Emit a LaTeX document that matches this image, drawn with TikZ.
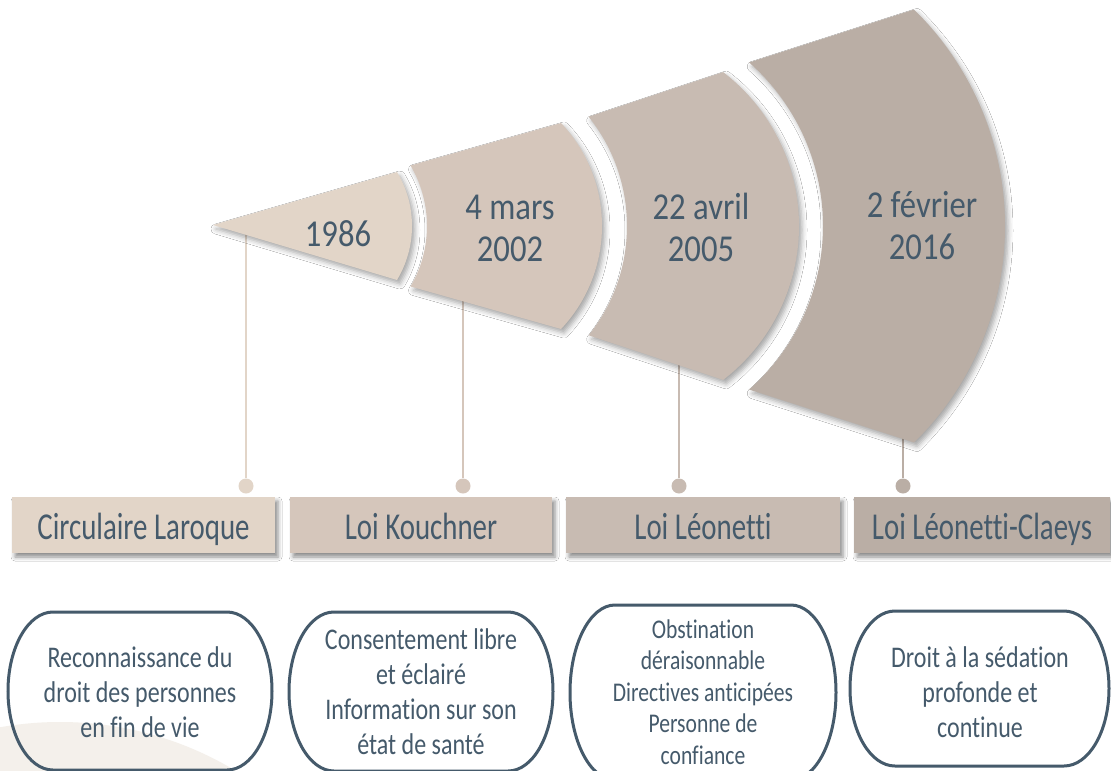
\documentclass[tikz,border=0pt]{standalone}
\usepackage{fontspec}
\setmainfont{Carlito}[Ligatures=NoCommon]
\newfontfamily\datefont[FakeStretch=0.86,Ligatures=NoCommon]{Carlito}
\newfontfamily\labfont[FakeStretch=0.76,Ligatures=NoCommon]{Carlito}
\newfontfamily\descfont[FakeStretch=0.8,Ligatures=NoCommon]{Carlito}
\usetikzlibrary{shadows.blur}
\definecolor{cA}{HTML}{E2D5C8}
\definecolor{cB}{HTML}{D5C6BB}
\definecolor{cC}{HTML}{C8BBB2}
\definecolor{cD}{HTML}{BAAEA5}
\definecolor{txt}{HTML}{455A6B}
\definecolor{bgc}{HTML}{F4F0EB}
\newcommand\mystad[5]{%
  \draw[oval] ({#1+#5},#2) -- ({#3-#5},#2)
    arc[start angle=-90,end angle=90,x radius=#5,y radius={(#4-#2)/2}]
    -- ({#1+#5},#4)
    arc[start angle=90,end angle=270,x radius=#5,y radius={(#4-#2)/2}] -- cycle;}
\begin{document}
\begin{tikzpicture}[x=1pt,y=-1pt,
  piece/.style={blur shadow={shadow xshift=3pt,shadow yshift=-4pt,shadow blur radius=5pt,shadow opacity=35}},
  stem/.style={line width=2.5pt},
  dot/.style={circle,inner sep=0pt,minimum size=15pt},
  datetxt/.style={text=txt,align=center,font=\datefont\fontsize{38}{42}\selectfont},
  labbox/.style={text=txt,font=\labfont\fontsize{38}{42}\selectfont,minimum height=56pt,
     text height=30pt,text depth=2pt,inner sep=0pt,
     blur shadow={shadow xshift=3pt,shadow yshift=-4pt,shadow blur radius=4pt,shadow opacity=45}},
  oval/.style={draw=txt,line width=3pt},
  desc/.style={text=txt,align=center,font=\descfont\fontsize{30}{35}\selectfont},
  descs/.style={text=txt,align=center,font=\descfont\fontsize{27}{31.5}\selectfont}]
\useasboundingbox (0,0) rectangle (1111,771);
\clip (0,0) rectangle (1111,771);
\fill[white] (0,0) rectangle (1111,771);
% background circle
\fill[bgc] (60,1062) circle[radius=340];
% stems and dots
\node[dot,fill=cA] (d1) at (246,486) {};
\node[dot,fill=cB] (d2) at (463,486) {};
\node[dot,fill=cC] (d3) at (679,486) {};
\node[dot,fill=cD] (d4) at (903,486) {};
\coordinate (s1) at (246,226);
\coordinate (s2) at (463,226);
\coordinate (s3) at (679,226);
\coordinate (s4) at (903,226);
\draw[stem,cA] (s1) -- (d1);
\draw[stem,cB] (s2) -- (d2);
\draw[stem,cC] (s3) -- (d3);
\draw[stem,cD] (s4) -- (d4);
% pieces
\fill[cA,piece] (213,225) -- ([shift={(307.3,226)}]-31.05:104.7)
   arc[start angle=-31.05,end angle=31.05,radius=104.7] -- cycle;
\fill[cB,piece] ([shift={(307.3,226)}]-30.36:119.7) -- ([shift={(452.1,226)}]-43.4:149.9)
   arc[start angle=-43.4,end angle=43.4,radius=149.9]
   -- ([shift={(307.3,226)}]30.36:119.7)
   arc[start angle=30.36,end angle=-30.36,radius=119.7] -- cycle;
\fill[cC,piece] ([shift={(452.1,226)}]-38.66:174.9) -- ([shift={(605,226)}]-52.5:194)
   arc[start angle=-52.5,end angle=52.5,radius=194]
   -- ([shift={(452.1,226)}]38.66:174.9)
   arc[start angle=38.66,end angle=-38.66,radius=174.9] -- cycle;
\fill[cD,piece] ([shift={(605,226)}]-48.6:218) -- ([shift={(702,226)}]-45.6:303)
   arc[start angle=-45.6,end angle=45.6,radius=303]
   -- ([shift={(605,226)}]48.6:218)
   arc[start angle=48.6,end angle=-48.6,radius=218] -- cycle;
% dates
\node[datetxt] (t1) at (338,234) {1986};
\node[datetxt] (t2) at (510,228) {4 mars\\2002};
\node[datetxt] (t3) at (701,227) {22 avril\\2005};
\node[datetxt] (t4) at (922,226) {2 février\\2016};
% label boxes
\node[labbox,fill=cA,minimum width=263pt] (b1) at (143.5,525) {Circulaire Laroque};
\node[labbox,fill=cB,minimum width=262pt] (b2) at (421,525) {Loi Kouchner};
\node[labbox,fill=cC,minimum width=274pt] (b3) at (703,525) {Loi Léonetti};
\node[labbox,fill=cD,minimum width=256pt] (b4) at (982,525) {Loi Léonetti-Claeys};
% description shapes
\mystad{8}{612}{272}{770}{45}
\mystad{289}{612}{553}{771}{45}
\mystad{570}{605}{836}{780}{45}
\mystad{850}{611}{1109}{766}{45}
\node[desc] (e1) at (140,692) {Reconnaissance du\\droit des personnes\\en fin de vie};
\node[desc] (e2) at (421,692) {Consentement libre\\et éclairé\\Information sur son\\état de santé};
\node[descs] (e3) at (703,692) {Obstination\\déraisonnable\\Directives anticipées\\Personne de\\confiance};
\node[desc] (e4) at (980,692) {Droit à la sédation\\profonde et\\continue};
\end{tikzpicture}
\end{document}
